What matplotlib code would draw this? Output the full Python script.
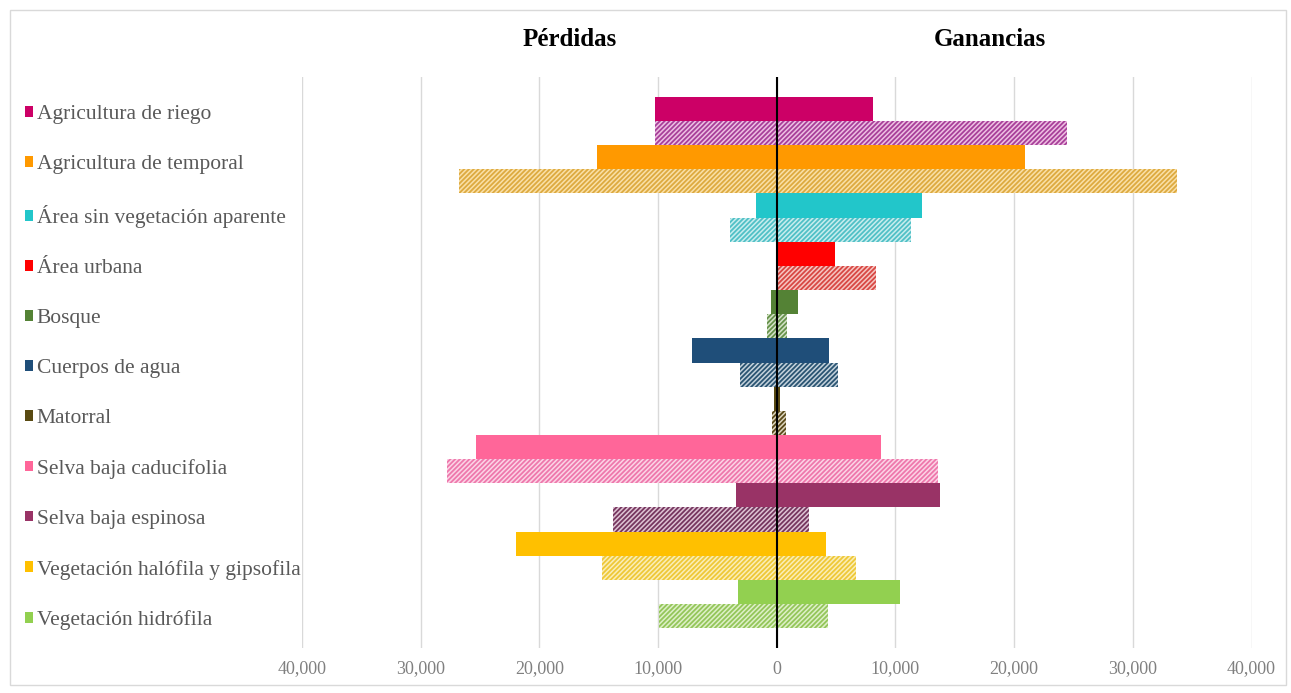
import numpy as np
import matplotlib
matplotlib.use("Agg")
import matplotlib.pyplot as plt
from matplotlib.patches import Patch, Rectangle

plt.rcParams.update({
    "font.family": "Liberation Serif",
    "hatch.linewidth": 1.3,
})

categories = [
    "Agricultura de riego",
    "Agricultura de temporal",
    "Área sin vegetación aparente",
    "Área urbana",
    "Bosque",
    "Cuerpos de agua",
    "Matorral",
    "Selva baja caducifolia",
    "Selva baja espinosa",
    "Vegetación halófila y gipsofila",
    "Vegetación hidrófila",
]

# solid bars (first period)
loss_a = [10250, 15150, 1750, 0, 450, 7150, 250, 25300, 3400, 22000, 3250]
gain_a = [8150, 20950, 12200, 4900, 1750, 4400, 300, 8800, 13750, 4150, 10350]
# hatched bars (second period)
loss_b = [10250, 26750, 3950, 0, 800, 3100, 400, 27750, 13800, 14750, 9950]
gain_b = [24450, 33750, 11300, 8350, 900, 5200, 800, 13550, 2750, 6650, 4350]

solid_colors = ["#CC0066", "#FF9900", "#22C6CA", "#FF0000", "#548235", "#1F4E79",
                "#594A12", "#FF6699", "#993366", "#FFC000", "#92D050"]
hatch_colors = ["#A8409A", "#DDAA40", "#50C0C6", "#D84844", "#66924A", "#2A5472",
                "#5A4A1A", "#EE78AC", "#76365F", "#EEC838", "#94C65A"]
hatch_bg = ["#EEC0E2", "#FAE0A8", "#C8EDEE", "#F6C6C2", "#D4E2C8", "#C4D2DC",
            "#DDD6BF", "#FCD4E6", "#DEC4D4", "#FBEEB8", "#DEF0C8"]

xticks = np.arange(-40000, 40001, 10000)

fig = plt.figure(figsize=(12.91, 6.93), dpi=100)
ax = fig.add_axes([302 / 1291, 45 / 693, 949.5 / 1291, 571 / 693])

y = np.arange(len(categories))
h = 0.5
la, ga = -np.array(loss_a), np.array(gain_a)
lb, gb = -np.array(loss_b), np.array(gain_b)

for i in range(len(categories)):
    for w in (la[i], ga[i]):
        ax.barh(y[i] - h / 2, w, height=h, color=solid_colors[i], lw=0, zorder=2)
    for w in (lb[i], gb[i]):
        ax.barh(y[i] + h / 2, w, height=h, facecolor=hatch_bg[i],
                edgecolor=hatch_colors[i], hatch="///////", lw=0, zorder=2)

ax.axvline(0, color="black", lw=1.5, zorder=4)
ax.set_xlim(-40000, 40000)
ax.set_ylim(10.91, -0.91)
ax.set_yticks([])
ax.set_xticks(xticks)
ax.set_xticklabels([f"{abs(v):,}" for v in xticks], fontsize=13, color="#808080")
ax.tick_params(axis="x", length=0, pad=9)
ax.grid(axis="x", color="#D9D9D9", lw=1, zorder=0)
ax.set_axisbelow(True)
for s in ax.spines.values():
    s.set_visible(False)

fig.text(570 / 1291, 1 - 39 / 693, "Pérdidas", ha="center", va="center",
         fontsize=18, fontweight="bold")
fig.text(990 / 1291, 1 - 39 / 693, "Ganancias", ha="center", va="center",
         fontsize=18, fontweight="bold")

handles = [Patch(facecolor=c, edgecolor="none") for c in solid_colors]
leg = fig.legend(handles, categories, loc="upper left",
                 bbox_to_anchor=(14 / 1291, 1 - 94 / 693), frameon=False,
                 fontsize=15.5, labelcolor="#595959", handlelength=0.4,
                 handleheight=0.4, handletextpad=0.15, labelspacing=1.44,
                 borderpad=0)

fig.patches.append(Rectangle((10 / 1291, 8 / 693), 1276 / 1291, 675 / 693,
                             transform=fig.transFigure, fill=False,
                             edgecolor="#D9D9D9", lw=1))

fig.savefig("out.png", dpi=100)
